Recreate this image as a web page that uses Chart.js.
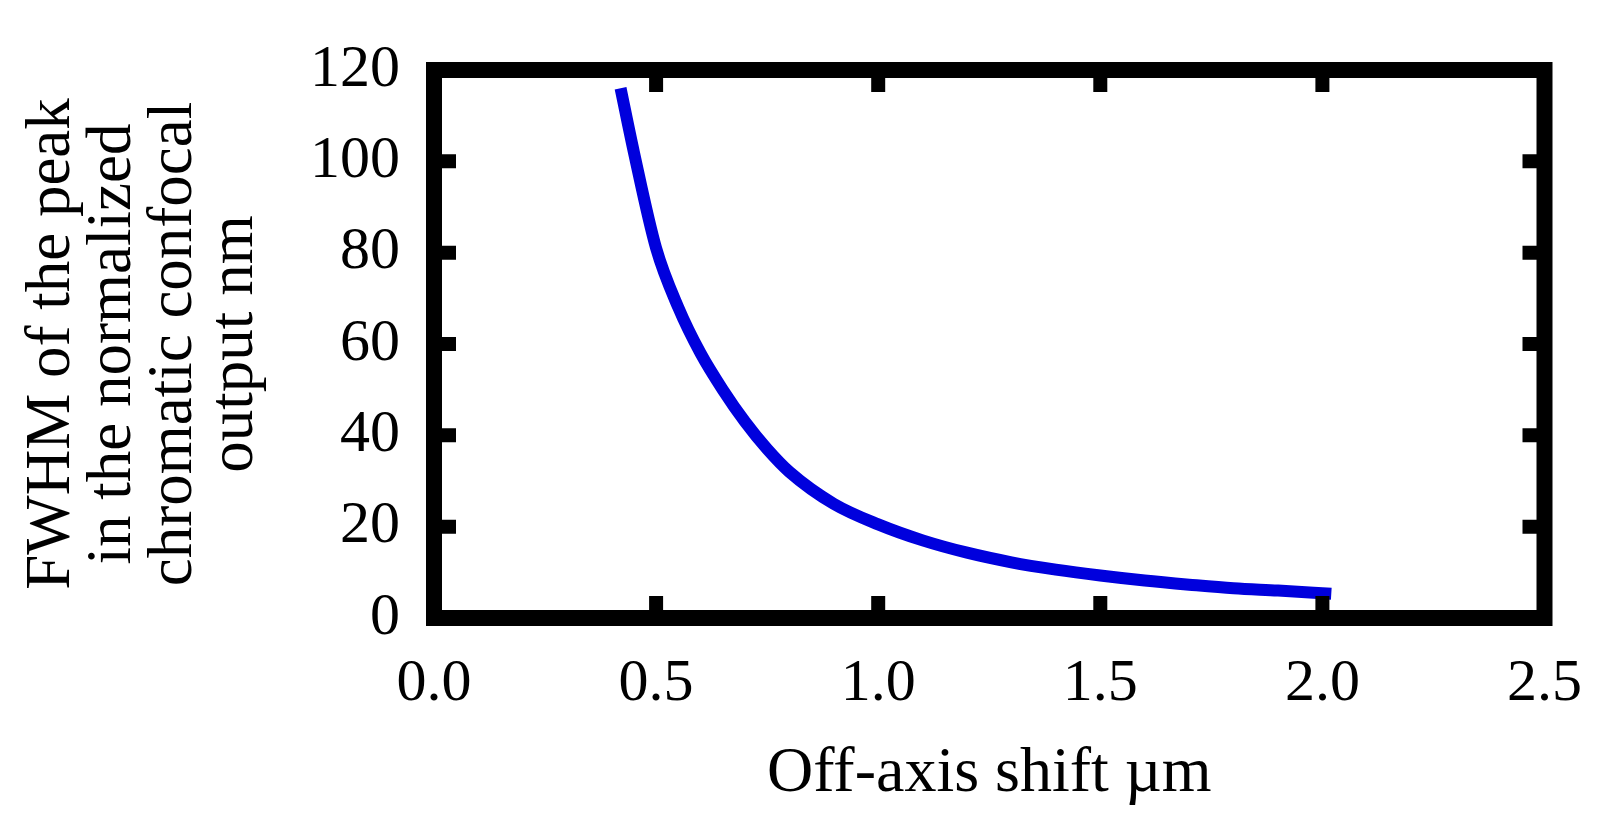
<!DOCTYPE html>
<html>
<head>
<meta charset="utf-8">
<script src="https://cdn.jsdelivr.net/npm/chart.js@4"></script>
<style>
  html, body { margin: 0; padding: 0; background: #fff; }
  #wrap { width: 1612px; height: 817px; }
</style>
</head>
<body>
<div id="wrap"><canvas id="fwhmChart"></canvas></div>
<script>
// data
const shiftUm = [0.42, 0.45, 0.5, 0.55, 0.6, 0.65, 0.7, 0.75, 0.8, 0.9, 1.0, 1.1, 1.2, 1.3, 1.4, 1.5, 1.6, 1.7, 1.8, 1.9, 2.02];
const fwhmNm = [116, 102, 81, 68, 58, 50, 43, 37, 32, 25, 20.5, 17, 14.3, 12.2, 10.6, 9.3, 8.2, 7.3, 6.5, 6, 5.3];
const xTicks = [0.0, 0.5, 1.0, 1.5, 2.0, 2.5];
const yTicks = [0, 20, 40, 60, 80, 100, 120];

const FONT = "'Liberation Serif', 'Times New Roman', serif";

// thick frame plus inward ticks on every side
const framePlugin = {
  id: 'frame',
  afterDraw(chart) {
    const { ctx, chartArea: a, scales } = chart;
    ctx.save();
    ctx.strokeStyle = '#000';
    ctx.lineWidth = 16;
    ctx.strokeRect(a.left, a.top, a.right - a.left, a.bottom - a.top);
    ctx.lineWidth = 14;
    const len = 22;
    xTicks.slice(1, -1).forEach(v => {
      const x = scales.x.getPixelForValue(v);
      ctx.beginPath();
      ctx.moveTo(x, a.bottom); ctx.lineTo(x, a.bottom - len);
      ctx.moveTo(x, a.top); ctx.lineTo(x, a.top + len);
      ctx.stroke();
    });
    yTicks.slice(1, -1).forEach(v => {
      const y = scales.y.getPixelForValue(v);
      ctx.beginPath();
      ctx.moveTo(a.left, y); ctx.lineTo(a.left + len, y);
      ctx.moveTo(a.right, y); ctx.lineTo(a.right - len, y);
      ctx.stroke();
    });
    ctx.restore();
  }
};

new Chart(document.getElementById('fwhmChart'), {
  type: 'line',
  data: {
    datasets: [{
      data: shiftUm.map((x, i) => ({ x: x, y: fwhmNm[i] })),
      borderColor: '#0000dd',
      borderWidth: 12,
      pointRadius: 0,
      cubicInterpolationMode: 'monotone',
      fill: false
    }]
  },
  options: {
    responsive: true,
    maintainAspectRatio: false,
    animation: false,
    layout: { padding: { top: 46, right: 52, left: 0, bottom: 0 } },
    plugins: { legend: { display: false }, tooltip: { enabled: false } },
    scales: {
      x: {
        type: 'linear',
        min: 0, max: 2.5,
        afterBuildTicks: s => { s.ticks = xTicks.map(v => ({ value: v })); },
        afterFit: s => { s.height = 199; },
        grid: { display: false, drawTicks: false },
        border: { display: false },
        ticks: {
          color: '#000', padding: 30, maxRotation: 0,
          font: { family: FONT, size: 60 },
          callback: v => v.toFixed(1)
        },
        title: {
          display: true, text: 'Off-axis shift µm', color: '#000',
          font: { family: FONT, size: 64 }, padding: { top: 18 }
        }
      },
      y: {
        min: 0, max: 120,
        afterBuildTicks: s => { s.ticks = yTicks.map(v => ({ value: v })); },
        afterFit: s => { s.width = 434; },
        grid: { display: false, drawTicks: false },
        border: { display: false },
        ticks: {
          color: '#000', padding: 34,
          font: { family: FONT, size: 60 }
        },
        title: {
          display: true,
          text: ['FWHM of the peak', 'in the normalized', 'chromatic confocal', 'output nm'],
          color: '#000',
          font: { family: FONT, size: 63, lineHeight: 0.97 },
          padding: { top: 22, bottom: 0 }
        }
      }
    }
  },
  plugins: [framePlugin]
});
</script>
</body>
</html>
